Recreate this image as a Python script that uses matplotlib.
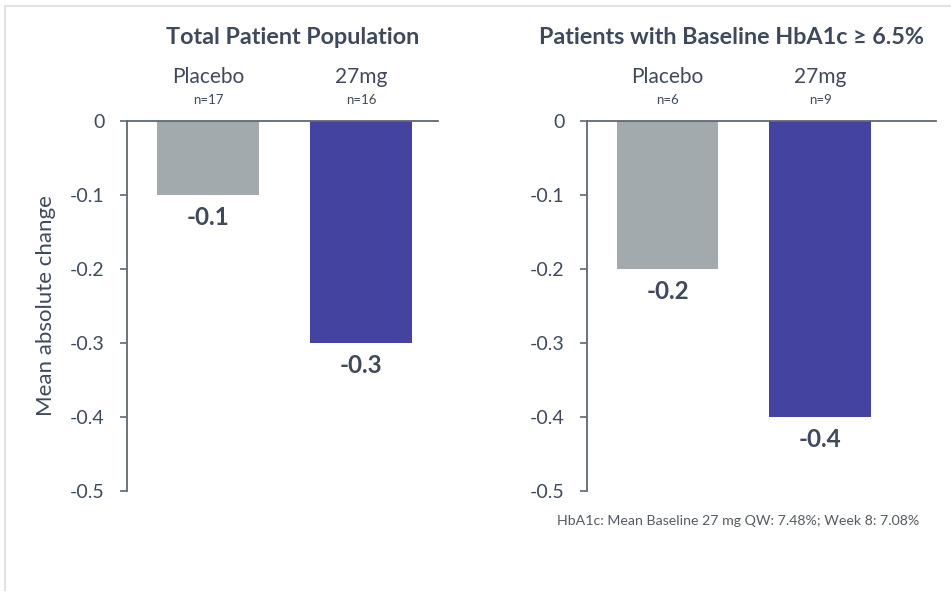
import matplotlib.pyplot as plt
from matplotlib.lines import Line2D

# Mean absolute change in HbA1c by group
groups = ['Placebo', '27mg']
total_n = ['n=17', 'n=16']
total_change = [-0.1, -0.3]
high_n = ['n=6', 'n=9']
high_change = [-0.2, -0.4]

bar_colors = ['#A2AAAE', '#4444A0']
text_color = '#3E4A5C'
axis_color = '#5F6873'

plt.rcParams['font.family'] = ['Lato', 'DejaVu Sans']


def draw_panel(ax, title, title_x, n_labels, values, right_limit):
    x = range(len(groups))
    ax.bar(x, values, width=0.665, color=bar_colors)
    ax.set_xlim(-0.53, right_limit)
    ax.set_ylim(-0.5, 0)
    ax.set_yticks([0, -0.1, -0.2, -0.3, -0.4, -0.5])
    ax.set_yticklabels(['0', '-0.1', '-0.2', '-0.3', '-0.4', '-0.5'])
    ax.set_xticks([])
    for side in ['right', 'bottom']:
        ax.spines[side].set_visible(False)
    for side in ['left', 'top']:
        ax.spines[side].set_color(axis_color)
        ax.spines[side].set_linewidth(1.3)
    ax.tick_params(axis='y', colors=axis_color, labelcolor=text_color,
                   labelsize=14, length=5, width=1.2, pad=11)

    for i, (name, n, v) in enumerate(zip(groups, n_labels, values)):
        ax.text(i, 0.059, name, ha='center', va='center', fontsize=15,
                color=text_color, clip_on=False)
        ax.text(i, 0.028, n, ha='center', va='center', fontsize=9.5,
                color=text_color, clip_on=False)
        ax.text(i, v - 0.030, f'{v:.1f}', ha='center', va='center',
                fontsize=17.5, fontweight='bold', color=text_color)

    ax.text(title_x, 0.113, title, ha='center', va='center', fontsize=16.8,
            fontweight='bold', color=text_color, clip_on=False)


fig = plt.figure(figsize=(9.51, 5.97), dpi=100)

ax1 = fig.add_axes([0.1335, 0.1776, 0.327, 0.6198])
draw_panel(ax1, 'Total Patient Population', 0.55, total_n, total_change, 1.5)
ax1.set_ylabel('Mean absolute change', fontsize=16, color=text_color, labelpad=10)

ax2 = fig.add_axes([0.6172, 0.1776, 0.367, 0.6198])
draw_panel(ax2, 'Patients with Baseline HbA1c \u2265 6.5%', 0.42, high_n, high_change, 1.76)

fig.text(0.5857, 0.128, 'HbA1c: Mean Baseline 27 mg QW: 7.48%; Week 8: 7.08%',
         fontsize=10.2, color='#555B63', ha='left', va='center')

# light slide frame along the top and left edges
fig.add_artist(Line2D([0.0055, 0.0055], [0.012, 0.99], color='#E2E2E2', lw=1.5))
fig.add_artist(Line2D([0.0055, 1.0], [0.99, 0.99], color='#E2E2E2', lw=1.5))

fig.savefig('out.png', dpi=100)
